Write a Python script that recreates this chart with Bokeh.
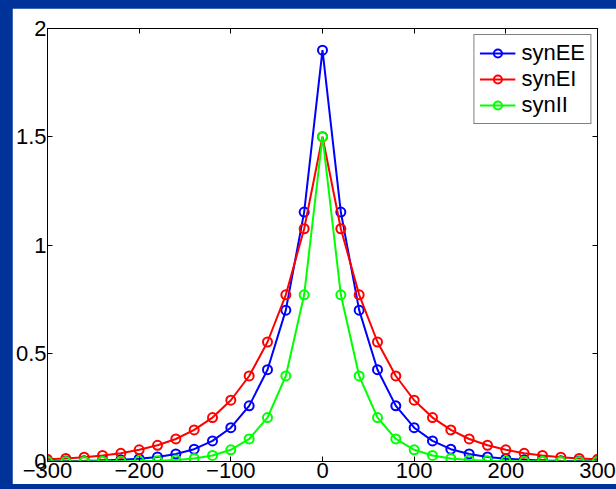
from bokeh.plotting import figure
from bokeh.models import Range1d, LinearAxis, FixedTicker, Legend, LegendItem, Column
from bokeh.embed import file_html
from bokeh.resources import INLINE

# ---- data ----
distance = [-300, -280, -260, -240, -220, -200, -180, -160, -140, -120, -100, -80, -60, -40, -20,
            0, 20, 40, 60, 80, 100, 120, 140, 160, 180, 200, 220, 240, 260, 280, 300]
syn_ee = [0.001, 0.002, 0.003, 0.005, 0.008, 0.013, 0.021, 0.035, 0.057, 0.095, 0.156, 0.257, 0.424, 0.699, 1.152,
          1.9, 1.152, 0.699, 0.424, 0.257, 0.156, 0.095, 0.057, 0.035, 0.021, 0.013, 0.008, 0.005, 0.003, 0.002, 0.001]
syn_ei = [0.010, 0.014, 0.020, 0.028, 0.038, 0.054, 0.075, 0.104, 0.146, 0.203, 0.283, 0.395, 0.552, 0.770, 1.075,
          1.5, 1.075, 0.770, 0.552, 0.395, 0.283, 0.203, 0.146, 0.104, 0.075, 0.054, 0.038, 0.028, 0.020, 0.014, 0.010]
syn_ii = [0.000, 0.000, 0.000, 0.001, 0.001, 0.002, 0.004, 0.007, 0.014, 0.028, 0.054, 0.104, 0.203, 0.395, 0.770,
          1.5, 0.770, 0.395, 0.203, 0.104, 0.054, 0.028, 0.014, 0.007, 0.004, 0.002, 0.001, 0.001, 0.000, 0.000, 0.000]

series_names = ["synEE", "synEI", "synII"]
series_values = [syn_ee, syn_ei, syn_ii]
series_colors = ["#0000ff", "#ff0000", "#00ff00"]

x_ticks = [-300, -200, -100, 0, 100, 200, 300]
x_tick_labels = ["\u2212300", "\u2212200", "\u2212100", "0", "100", "200", "300"]
y_ticks = [0, 0.5, 1, 1.5, 2]
y_tick_labels = ["0", "0.5", "1", "1.5", "2"]

FONT = "Liberation Sans"
FSIZE = "22px"

p = figure(width=604, height=476, output_backend="svg", toolbar_location=None,
           x_range=Range1d(-300, 300), y_range=Range1d(0, 2),
           min_border_left=34, min_border_right=19, min_border_top=20, min_border_bottom=23,
           x_axis_location=None, y_axis_location=None)
p.background_fill_color = "white"
p.border_fill_color = "white"
p.outline_line_color = "black"
p.outline_line_width = 1
p.xgrid.visible = False
p.ygrid.visible = False


def make_axis(ticks, labels, show_labels):
    ax = LinearAxis(ticker=FixedTicker(ticks=ticks))
    ax.major_tick_in = 5
    ax.major_tick_out = 0
    ax.minor_tick_in = 0
    ax.minor_tick_out = 0
    ax.axis_line_color = "black"
    ax.major_tick_line_color = "black"
    ax.major_label_text_font = FONT
    ax.major_label_text_color = "black"
    if show_labels:
        ax.major_label_text_font_size = FSIZE
        ax.major_label_standoff = 1
        ax.major_label_overrides = {str(t): l for t, l in zip(ticks, labels)}
    else:
        ax.major_label_text_font_size = "0px"
        ax.major_label_standoff = 0
        ax.major_label_text_alpha = 0
    return ax


p.add_layout(make_axis(x_ticks, x_tick_labels, True), "below")
p.add_layout(make_axis(y_ticks, y_tick_labels, True), "left")
p.add_layout(make_axis(x_ticks, x_tick_labels, False), "above")
p.add_layout(make_axis(y_ticks, y_tick_labels, False), "right")

items = []
for name, vals, col in zip(series_names, series_values, series_colors):
    ln = p.line(distance, vals, line_color=col, line_width=2)
    sc = p.scatter(distance, vals, marker="circle", size=9, line_color=col, line_width=2,
                   fill_color=None)
    items.append(LegendItem(label=name, renderers=[ln, sc]))

legend = Legend(items=items, location="top_right")
legend.margin = 6
legend.padding = 5
legend.spacing = 0
legend.glyph_width = 36
legend.glyph_height = 20
legend.label_height = 20
legend.label_standoff = 6
legend.label_text_font = FONT
legend.label_text_font_size = FSIZE
legend.label_text_color = "black"
legend.border_line_color = "black"
legend.border_line_width = 1
legend.background_fill_color = "white"
legend.background_fill_alpha = 1
p.add_layout(legend, "center")

p.margin = (8, 0, 5, 12)
page = Column(children=[p], styles={"background-color": "#003399"})

open("out.html", "w").write(file_html(page, INLINE))
